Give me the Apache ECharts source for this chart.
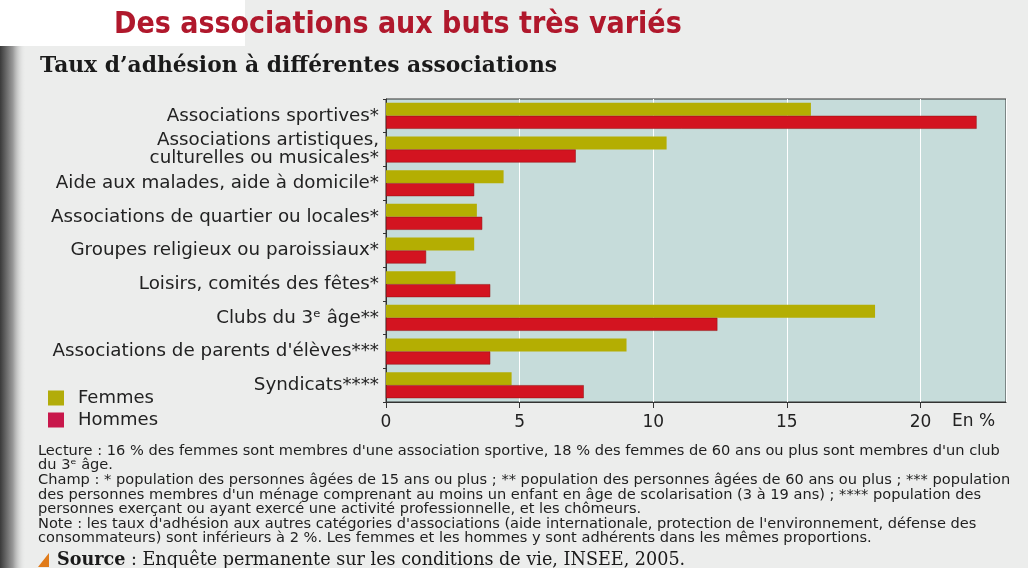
<!DOCTYPE html>
<html>
<head>
    <meta charset="utf-8">
    <script src="https://cdn.jsdelivr.net/npm/echarts@6/dist/echarts.min.js"></script>
    <style>
        * { margin: 0; padding: 0; }
        #main { width: 1028px; height: 568px; }
    </style>
</head>
<body>
    <div id="main"></div>
    <script type="text/javascript">
        // catégories, du haut vers le bas
        var categories = [
            'Associations sportives*',
            'Associations artistiques,\nculturelles ou musicales*',
            'Aide aux malades, aide à domicile*',
            'Associations de quartier ou locales*',
            'Groupes religieux ou paroissiaux*',
            'Loisirs, comités des fêtes*',
            'Clubs du 3ᵉ âge**',
            "Associations de parents d'élèves***",
            'Syndicats****'
        ];
        // taux d'adhésion en %
        var femmes = [15.9, 10.5, 4.4, 3.4, 3.3, 2.6, 18.3, 9.0, 4.7];
        var hommes = [22.1, 7.1, 3.3, 3.6, 1.5, 3.9, 12.4, 3.9, 7.4];
        var xTicks = [0, 5, 10, 15, 20];

        var notes = [
            "Lecture : 16 % des femmes sont membres d'une association sportive, 18 % des femmes de 60 ans ou plus sont membres d'un club",
            "du 3ᵉ âge.",
            "Champ : * population des personnes âgées de 15 ans ou plus ; ** population des personnes âgées de 60 ans ou plus ; *** population",
            "des personnes membres d'un ménage comprenant au moins un enfant en âge de scolarisation (3 à 19 ans) ; **** population des",
            "personnes exerçant ou ayant exercé une activité professionnelle, et les chômeurs.",
            "Note : les taux d'adhésion aux autres catégories d'associations (aide internationale, protection de l'environnement, défense des",
            "consommateurs) sont inférieurs à 2 %. Les femmes et les hommes y sont adhérents dans les mêmes proportions."
        ];
        var notesY = [452, 466, 481, 496, 510, 525, 539];

        var myChart = echarts.init(document.getElementById('main'));

        var graphics = [
            // fond du panneau
            { type: 'rect', z: -10, shape: { x: 0, y: 0, width: 1028, height: 568 }, style: { fill: '#ecedec' } },
            { type: 'rect', z: -9, shape: { x: 0, y: 0, width: 245, height: 46 }, style: { fill: '#ffffff' } },
            {
                type: 'rect', z: -8, shape: { x: 0, y: 46, width: 26, height: 522 },
                style: {
                    fill: new echarts.graphic.LinearGradient(0, 0, 1, 0, [
                        { offset: 0, color: '#3a3a3a' },
                        { offset: 0.5, color: '#9a9a9a' },
                        { offset: 1, color: 'rgba(236,237,236,0)' }
                    ])
                }
            },
            {
                type: 'text', left: 114, top: 10,
                style: { text: 'Des associations aux buts très variés', fill: '#b0182c', font: 'bold 30px "DejaVu Sans Condensed", "DejaVu Sans"' }
            },
            {
                type: 'text', left: 40, top: 55,
                style: { text: "Taux d’adhésion à différentes associations", fill: '#1a1a1a', font: 'bold 21.8px "DejaVu Serif"' }
            },
            {
                type: 'text', left: 952, top: 413,
                style: { text: 'En %', fill: '#222', font: '17px "DejaVu Sans"' }
            },
            {
                type: 'polygon', shape: { points: [[39, 568], [50, 554], [50, 568]] },
                style: { fill: '#e07b1a' }, top: 553, left: 38
            },
            {
                type: 'text', left: 57, top: 551,
                style: {
                    text: '{b|Source}{r| : Enquête permanente sur les conditions de vie, INSEE, 2005.}',
                    rich: {
                        b: { font: 'bold 17.6px "DejaVu Serif"', fill: '#1a1a1a' },
                        r: { font: '17.6px "DejaVu Serif"', fill: '#1a1a1a' }
                    }
                }
            }
        ];
        for (var i = 0; i < notes.length; i++) {
            graphics.push({
                type: 'text', left: 38, top: notesY[i] - 8,
                style: { text: notes[i], fill: '#1e1e1e', font: '14.6px "DejaVu Sans"' }
            });
        }

        var option = {
            animation: false,
            backgroundColor: '#ecedec',
            graphic: graphics,
            legend: {
                orient: 'vertical',
                left: 48,
                top: 389,
                padding: 0,
                itemWidth: 16,
                itemHeight: 15,
                itemGap: 4,
                icon: 'rect',
                textStyle: { fontSize: 18, color: '#222', fontFamily: 'DejaVu Sans', padding: [0, 0, 0, 9] },
                data: [
                    { name: 'Femmes', itemStyle: { color: '#b2ac0a', borderWidth: 0 } },
                    { name: 'Hommes', itemStyle: { color: '#c8174b', borderWidth: 0 } }
                ]
            },
            grid: {
                left: 386,
                right: 22,
                top: 99,
                bottom: 166,
                show: true,
                backgroundColor: '#c6dcda',
                borderColor: '#333',
                borderWidth: 1
            },
            xAxis: {
                type: 'value',
                min: 0,
                max: 23.2,
                interval: 5,
                axisLine: { show: true, lineStyle: { color: '#333' } },
                axisTick: { show: true, length: 6, lineStyle: { color: '#333' } },
                splitLine: { show: true, lineStyle: { color: '#ffffff', width: 1 } },
                axisLabel: {
                    margin: 12,
                    fontSize: 17,
                    color: '#222',
                    fontFamily: 'DejaVu Sans',
                    showMaxLabel: false,
                    formatter: function(v) {
                        return xTicks.indexOf(v) >= 0 ? String(v) : '';
                    }
                }
            },
            yAxis: {
                type: 'category',
                inverse: true,
                data: categories,
                axisLine: { show: true, lineStyle: { color: '#333' } },
                axisTick: { show: true, length: 3, lineStyle: { color: '#333' } },
                axisLabel: {
                    margin: 7,
                    fontSize: 18.3,
                    lineHeight: 18,
                    color: '#222',
                    fontFamily: 'DejaVu Sans'
                }
            },
            series: [
                {
                    name: 'Femmes',
                    type: 'bar',
                    data: femmes,
                    barWidth: 13,
                    barGap: '0%',
                    itemStyle: { color: '#b4ae02' }
                },
                {
                    name: 'Hommes',
                    type: 'bar',
                    data: hommes,
                    barWidth: 13,
                    itemStyle: { color: '#d31420', borderColor: '#8e1010', borderWidth: 0.5 }
                }
            ]
        };

        myChart.setOption(option);
    </script>
</body>
</html>
